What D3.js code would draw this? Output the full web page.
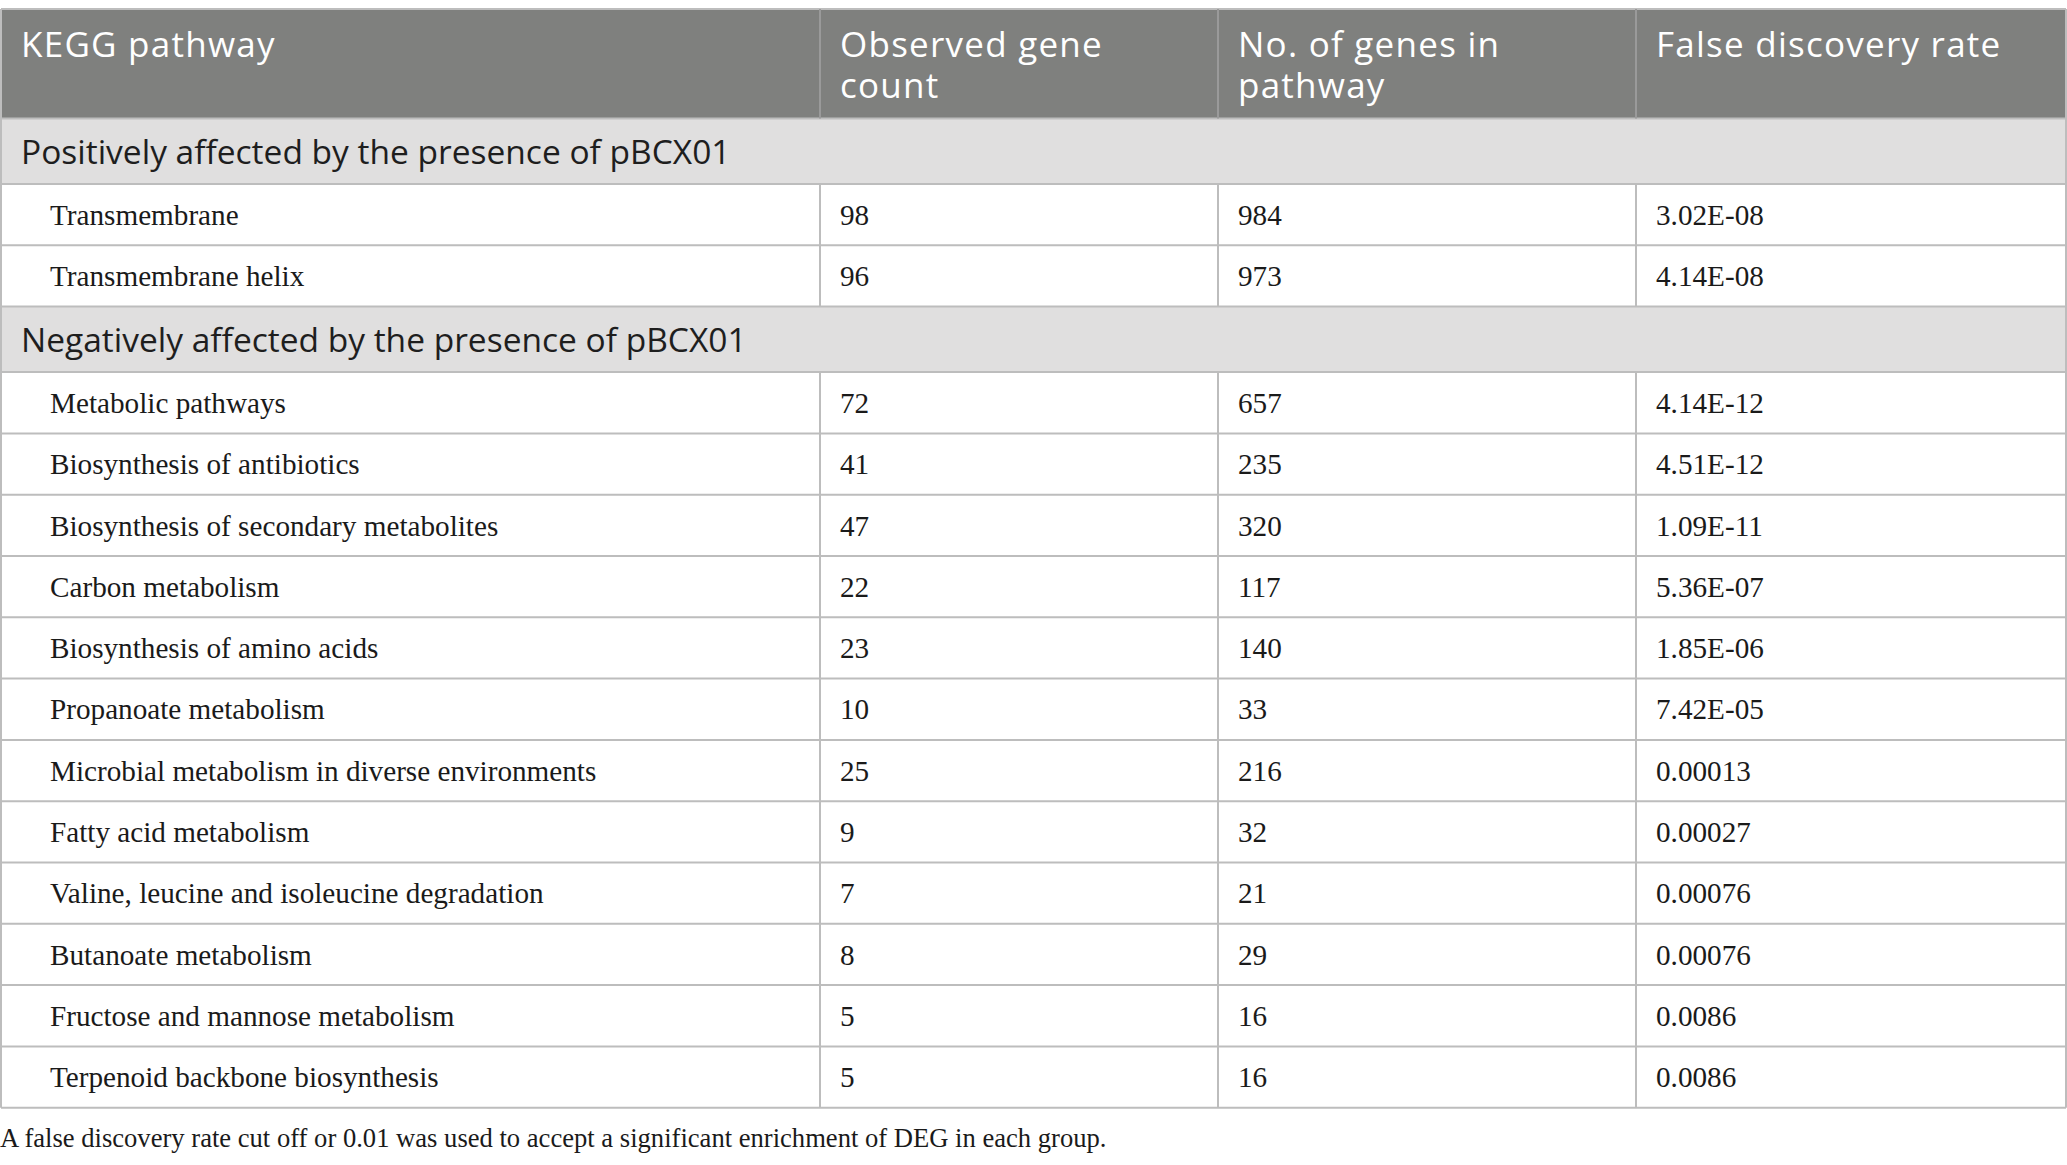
<!DOCTYPE html>
<html>
<head>
<meta charset="utf-8">
<script src="https://cdn.jsdelivr.net/npm/d3@7"></script>
<style>
  html, body { margin: 0; padding: 0; background: #fff; }
  svg { display: block; }
</style>
</head>
<body>
<svg id="chart" width="2067" height="1165"></svg>
<script>
// ---- data ----
const headers = [["KEGG pathway"], ["Observed gene", "count"], ["No. of genes in", "pathway"], ["False discovery rate"]];
const groupLabels = ["Positively affected by the presence of pBCX01", "Negatively affected by the presence of pBCX01"];
const groupIndex = [0, 0, 1, 1, 1, 1, 1, 1, 1, 1, 1, 1, 1, 1];
const pathways = ["Transmembrane", "Transmembrane helix", "Metabolic pathways", "Biosynthesis of antibiotics",
  "Biosynthesis of secondary metabolites", "Carbon metabolism", "Biosynthesis of amino acids",
  "Propanoate metabolism", "Microbial metabolism in diverse environments", "Fatty acid metabolism",
  "Valine, leucine and isoleucine degradation", "Butanoate metabolism", "Fructose and mannose metabolism",
  "Terpenoid backbone biosynthesis"];
const observedCount = [98, 96, 72, 41, 47, 22, 23, 10, 25, 9, 7, 8, 5, 5];
const genesInPathway = [984, 973, 657, 235, 320, 117, 140, 33, 216, 32, 21, 29, 16, 16];
const fdr = ["3.02E-08", "4.14E-08", "4.14E-12", "4.51E-12", "1.09E-11", "5.36E-07", "1.85E-06",
  "7.42E-05", "0.00013", "0.00027", "0.00076", "0.00076", "0.0086", "0.0086"];
const footnote = "A false discovery rate cut off or 0.01 was used to accept a significant enrichment of DEG in each group.";

// ---- layout ----
const svg = d3.select("#chart");
const top0 = 9, headerH = 109.5, groupH = 65.5, rowH = 61.3;
const colEdges = [1, 820, 1218, 1636, 2066];
const x = d3.scaleOrdinal().domain([0, 1, 2, 3]).range(colEdges.slice(0, 4));
const sansFont = "'Open Sans', Lato, sans-serif";
const serifFont = "'Liberation Serif', 'Times New Roman', serif";

// build row list
const rows = [];
let prevGroup = -1;
pathways.forEach((p, i) => {
  if (groupIndex[i] !== prevGroup) {
    rows.push({ type: "group", label: groupLabels[groupIndex[i]] });
    prevGroup = groupIndex[i];
  }
  rows.push({ type: "data", cells: [p, observedCount[i], genesInPathway[i], fdr[i]] });
});
let yCur = top0 + headerH;
rows.forEach(r => { r.y = yCur; r.h = r.type === "group" ? groupH : rowH; yCur += r.h; });
const tableBottom = yCur;

const lineColor = "#bdbdbd";

// header
svg.append("rect").attr("x", colEdges[0]).attr("y", top0).attr("width", colEdges[4] - colEdges[0]).attr("height", headerH)
  .attr("fill", "#7f807e");
headers.forEach((lines, c) => {
  lines.forEach((ln, k) => {
    svg.append("text").attr("x", x(c) + 20).attr("y", top0 + 48 + k * 41)
      .attr("font-family", sansFont).attr("font-size", 35).attr("letter-spacing", 1.25)
      .attr("fill", "#ffffff").text(ln);
  });
});

// rows
rows.forEach(r => {
  if (r.type === "group") {
    svg.append("rect").attr("x", colEdges[0]).attr("y", r.y).attr("width", colEdges[4] - colEdges[0]).attr("height", r.h)
      .attr("fill", "#e0dfdf");
    svg.append("text").attr("x", colEdges[0] + 20).attr("y", r.y + r.h / 2 + 1).attr("dy", "0.35em")
      .attr("font-family", sansFont).attr("font-size", 33.5).attr("fill", "#1e1e1e").text(r.label);
  } else {
    r.cells.forEach((v, c) => {
      svg.append("text").attr("x", x(c) + (c === 0 ? 49 : 20)).attr("y", r.y + r.h / 2).attr("dy", "0.35em")
        .attr("font-family", serifFont).attr("font-size", 29.2).attr("fill", "#1a1a1a").text(v);
    });
  }
});

// grid lines
const g = svg.append("g").attr("stroke", lineColor).attr("stroke-width", 2).attr("fill", "none");
[top0, top0 + headerH, ...rows.map(r => r.y + r.h)].forEach(yy => {
  g.append("line").attr("x1", colEdges[0]).attr("x2", colEdges[4]).attr("y1", yy).attr("y2", yy);
});
g.append("line").attr("x1", colEdges[0]).attr("x2", colEdges[0]).attr("y1", top0).attr("y2", tableBottom);
g.append("line").attr("x1", colEdges[4]).attr("x2", colEdges[4]).attr("y1", top0).attr("y2", tableBottom);
[1, 2, 3].forEach(c => {
  g.append("line").attr("x1", colEdges[c]).attr("x2", colEdges[c]).attr("y1", top0).attr("y2", top0 + headerH)
    .attr("stroke", "#9a9a9a");
});
rows.filter(r => r.type === "data").forEach(r => {
  [1, 2, 3].forEach(c => {
    g.append("line").attr("x1", colEdges[c]).attr("x2", colEdges[c]).attr("y1", r.y).attr("y2", r.y + r.h);
  });
});

// footnote
svg.append("text").attr("x", 0).attr("y", tableBottom + 30).attr("dy", "0.35em")
  .attr("font-family", serifFont).attr("font-size", 26.6).attr("fill", "#1a1a1a").text(footnote);
</script>
</body>
</html>
